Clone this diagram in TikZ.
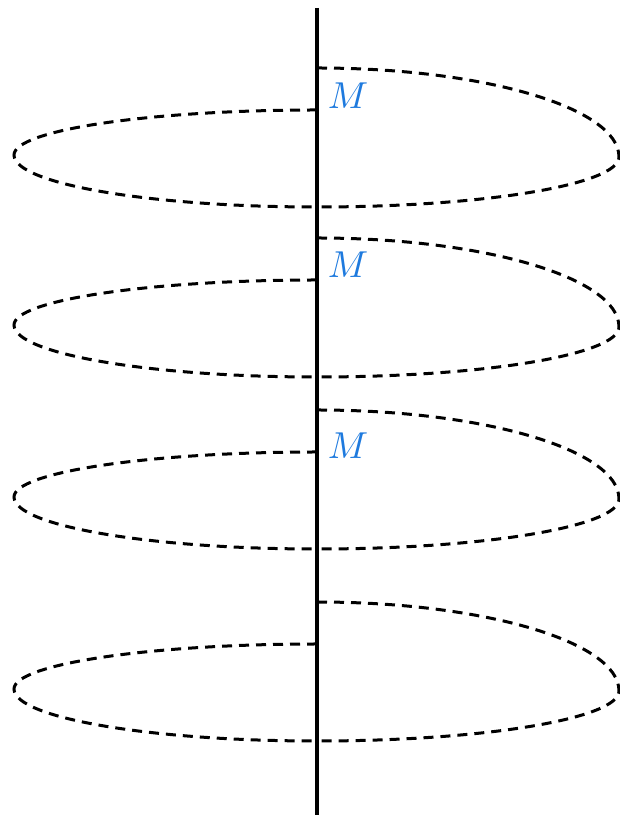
\documentclass[tikz,border=0pt]{standalone}
\begin{document}
\begin{tikzpicture}[x=1pt,y=1pt,
  loop/.style={line width=3pt,dash pattern=on 10pt off 7pt},
  axis/.style={line width=3.2pt},
  lab/.style={text=mblue,inner sep=0pt}]
\definecolor{mblue}{RGB}{30,122,222}
\useasboundingbox (0,0) rectangle (620,818);
\foreach \d in {0,170,342,534}{
  % right half
  \draw[loop] (317,{750-\d}) arc[start angle=90,end angle=0,x radius=302,y radius=89]
                              arc[start angle=0,end angle=-90,x radius=302,y radius=50];
  % left half
  \draw[loop] (317,{708-\d}) arc[start angle=90,end angle=180,x radius=303,y radius=45]
                              arc[start angle=180,end angle=270,x radius=303,y radius=52];
}
\coordinate (top) at (317,810);
\coordinate (bot) at (317,3);
\draw[axis] (top) -- (bot);
\node[lab] (m1) at (348,722) {\scalebox{3.75}{$M$}};
\node[lab] (m2) at (348,553) {\scalebox{3.75}{$M$}};
\node[lab] (m3) at (348,372) {\scalebox{3.75}{$M$}};
\end{tikzpicture}
\end{document}
